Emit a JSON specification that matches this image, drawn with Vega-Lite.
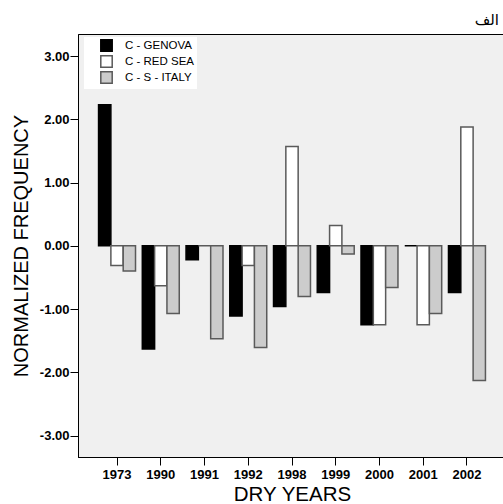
{
  "$schema": "https://vega.github.io/schema/vega-lite/v6.json",
  "autosize": {"type": "none"},
  "width": 428,
  "height": 423,
  "padding": {"left": 78, "top": 34, "right": 0, "bottom": 47},
  "background": "#ffffff",
  "title": {
    "text": "الف",
    "anchor": "end",
    "frame": "group",
    "font": "DejaVu Sans",
    "fontSize": 15,
    "fontWeight": "normal",
    "color": "#000000",
    "dx": -7,
    "offset": 6
  },
  "data": {
    "values": [
      {"year": "1973", "series": "C - GENOVA", "value": 2.23},
      {"year": "1973", "series": "C - RED SEA", "value": -0.31},
      {"year": "1973", "series": "C - S - ITALY", "value": -0.40},
      {"year": "1990", "series": "C - GENOVA", "value": -1.63},
      {"year": "1990", "series": "C - RED SEA", "value": -0.63},
      {"year": "1990", "series": "C - S - ITALY", "value": -1.07},
      {"year": "1991", "series": "C - GENOVA", "value": -0.22},
      {"year": "1991", "series": "C - RED SEA", "value": 0.0},
      {"year": "1991", "series": "C - S - ITALY", "value": -1.47},
      {"year": "1992", "series": "C - GENOVA", "value": -1.11},
      {"year": "1992", "series": "C - RED SEA", "value": -0.31},
      {"year": "1992", "series": "C - S - ITALY", "value": -1.61},
      {"year": "1998", "series": "C - GENOVA", "value": -0.96},
      {"year": "1998", "series": "C - RED SEA", "value": 1.57},
      {"year": "1998", "series": "C - S - ITALY", "value": -0.80},
      {"year": "1999", "series": "C - GENOVA", "value": -0.74},
      {"year": "1999", "series": "C - RED SEA", "value": 0.32},
      {"year": "1999", "series": "C - S - ITALY", "value": -0.13},
      {"year": "2000", "series": "C - GENOVA", "value": -1.25},
      {"year": "2000", "series": "C - RED SEA", "value": -1.25},
      {"year": "2000", "series": "C - S - ITALY", "value": -0.66},
      {"year": "2001", "series": "C - GENOVA", "value": 0.0},
      {"year": "2001", "series": "C - RED SEA", "value": -1.25},
      {"year": "2001", "series": "C - S - ITALY", "value": -1.07},
      {"year": "2002", "series": "C - GENOVA", "value": -0.74},
      {"year": "2002", "series": "C - RED SEA", "value": 1.88},
      {"year": "2002", "series": "C - S - ITALY", "value": -2.13}
    ]
  },
  "mark": {"type": "bar", "strokeWidth": 1.5, "strokeOpacity": 1},
  "encoding": {
    "x": {
      "field": "year",
      "type": "nominal",
      "scale": {"paddingInner": 0.155, "paddingOuter": 0.47},
      "axis": {
        "title": "DRY YEARS",
        "labelAngle": 0,
        "labelFont": "Liberation Sans",
        "labelFontWeight": "bold",
        "labelFontSize": 13,
        "labelPadding": 3,
        "tickSize": 8,
        "titleFont": "Liberation Sans",
        "titleFontSize": 20.5,
        "titleFontWeight": "normal",
        "titlePadding": 3
      }
    },
    "xOffset": {
      "field": "series",
      "type": "nominal",
      "sort": ["C - GENOVA", "C - RED SEA", "C - S - ITALY"],
      "scale": {"paddingInner": 0, "paddingOuter": 0}
    },
    "y": {
      "field": "value",
      "type": "quantitative",
      "scale": {"domain": [-3.34, 3.35], "nice": false, "zero": false},
      "axis": {
        "title": "NORMALIZED FREQUENCY",
        "values": [-3, -2, -1, 0, 1, 2, 3],
        "labelExpr": "(datum.value < 0 ? '-' : '') + format(abs(datum.value), '.2f')",
        "grid": false,
        "labelFont": "Liberation Sans",
        "labelFontWeight": "bold",
        "labelFontSize": 13,
        "labelPadding": 1,
        "tickSize": 8,
        "titleFont": "Liberation Sans",
        "titleFontSize": 20,
        "titleFontWeight": "normal",
        "titlePadding": 8
      }
    },
    "fill": {
      "field": "series",
      "type": "nominal",
      "sort": ["C - GENOVA", "C - RED SEA", "C - S - ITALY"],
      "scale": {"domain": ["C - GENOVA", "C - RED SEA", "C - S - ITALY"], "range": ["#000000", "#ffffff", "#cccccc"]},
      "legend": {
        "title": null,
        "orient": "none",
        "legendX": 6,
        "legendY": 3,
        "fillColor": "#ffffff",
        "padding": 2,
        "symbolType": "square",
        "symbolSize": 130,
        "symbolOffset": 14,
        "symbolStrokeWidth": 1.5,
        "labelFont": "Liberation Sans",
        "labelFontSize": 11.5,
        "labelColor": "#000000",
        "labelOffset": 12,
        "rowPadding": -4,
        "labelExpr": "datum.label + '\u00a0\u00a0\u00a0\u00a0\u00a0\u00a0\u00a0\u00a0\u00a0'"
      }
    },
    "stroke": {
      "field": "series",
      "type": "nominal",
      "sort": ["C - GENOVA", "C - RED SEA", "C - S - ITALY"],
      "scale": {"domain": ["C - GENOVA", "C - RED SEA", "C - S - ITALY"], "range": ["#000000", "#5a5a5a", "#5a5a5a"]},
      "legend": {
        "title": null,
        "orient": "none",
        "legendX": 6,
        "legendY": 3,
        "fillColor": "#ffffff",
        "padding": 2,
        "symbolType": "square",
        "symbolSize": 130,
        "symbolOffset": 14,
        "symbolStrokeWidth": 1.5,
        "labelFont": "Liberation Sans",
        "labelFontSize": 11.5,
        "labelColor": "#000000",
        "labelOffset": 12,
        "rowPadding": -4,
        "labelExpr": "datum.label + '\u00a0\u00a0\u00a0\u00a0\u00a0\u00a0\u00a0\u00a0\u00a0'"
      }
    }
  },
  "config": {
    "view": {"fill": "#f0f0f0", "stroke": "#000000", "strokeWidth": 1},
    "axis": {
      "domainColor": "#000000",
      "domainWidth": 1,
      "tickColor": "#000000",
      "tickWidth": 1,
      "labelColor": "#000000",
      "titleColor": "#000000"
    }
  }
}
